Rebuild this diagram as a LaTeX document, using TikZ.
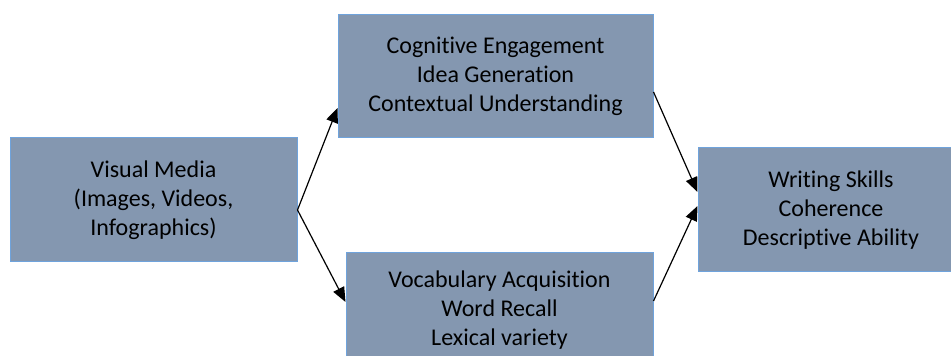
\documentclass[tikz,border=0pt]{standalone}
\usepackage{fontspec}
\setmainfont{Carlito}[Ligatures={NoCommon}]
\usetikzlibrary{arrows.meta}
\definecolor{boxfill}{HTML}{8497B0}
\definecolor{boxline}{HTML}{6FA3DC}
\begin{document}
\begin{tikzpicture}[x=0.75pt, y=-0.75pt,
    block/.style={draw=boxline, line width=0.75pt, fill=boxfill, inner sep=0pt,
        align=center, font=\fontsize{18}{21.75}\selectfont},
    arr/.style={-{Triangle[length=11pt,width=9pt]}, line width=0.9pt}]
    % page frame
    \useasboundingbox (0,0) rectangle (951,356);
    \clip (0,0) rectangle (951,356);
    % input box
    \node[block, minimum width=287*0.75pt, minimum height=124*0.75pt]
        (media) at (153.5,200) {Visual Media\\(Images, Videos,\\Infographics)};
    % middle boxes
    \node[block, minimum width=315*0.75pt, minimum height=123*0.75pt]
        (engage) at (495.5,76.5) {Cognitive Engagement\\Idea Generation\\Contextual Understanding};
    \node[block, minimum width=307*0.75pt, minimum height=114*0.75pt]
        (vocab) at (499.5,310) {Vocabulary Acquisition\\Word Recall\\Lexical variety};
    % outcome box
    \node[block, minimum width=266*0.75pt, minimum height=124*0.75pt]
        (writing) at (831,210) {Writing Skills\\Coherence\\Descriptive Ability};
    % arrows
    \draw[arr] ([yshift=-7.5pt]media.east) -- ([yshift=-23.6pt]engage.west);
    \draw[arr] ([yshift=-7.5pt]media.east) -- ([yshift=6pt]vocab.west);
    \draw[arr] ([yshift=-11.6pt]engage.east) -- ([yshift=13.5pt]writing.west);
    \draw[arr] ([yshift=6.75pt]vocab.east) -- ([yshift=3pt]writing.west);
\end{tikzpicture}
\end{document}
